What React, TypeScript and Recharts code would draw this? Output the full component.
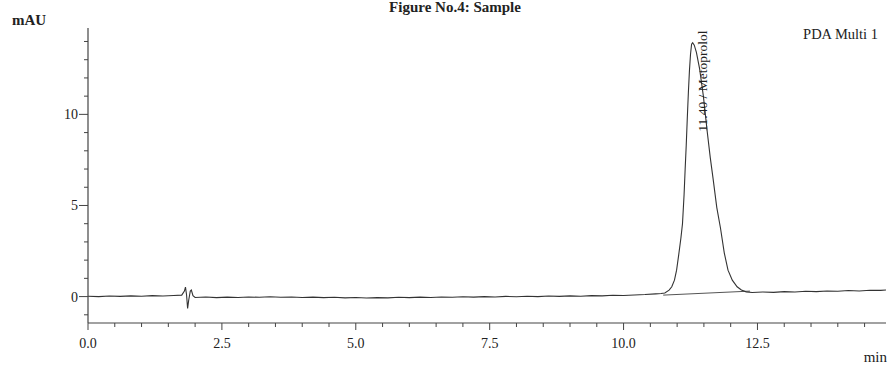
import React from "react";
import { LineChart, Line, XAxis, YAxis, ReferenceLine, ReferenceDot } from "recharts";

// Retention time (min)
const times: number[] = [
  0.0, 0.2, 0.4, 0.6, 0.8, 1.0, 1.2, 1.4, 1.6, 1.75, 1.8, 1.82, 1.84, 1.86, 1.88, 1.91, 1.93, 1.96,
  2.0, 2.2, 2.4, 2.6, 2.8, 3.0, 3.2, 3.4, 3.6, 3.8, 4.0, 4.2, 4.4, 4.6, 4.8, 5.0, 5.2, 5.4, 5.6, 5.8,
  6.0, 6.2, 6.4, 6.6, 6.8, 7.0, 7.2, 7.4, 7.6, 7.8, 8.0, 8.2, 8.4, 8.6, 8.8, 9.0, 9.2, 9.4, 9.6, 9.8,
  10.0, 10.2, 10.4, 10.6, 10.7, 10.77, 10.85, 10.9, 10.95, 10.99, 11.03, 11.07, 11.1, 11.13, 11.15,
  11.17, 11.19, 11.21, 11.23, 11.25, 11.27, 11.29, 11.32, 11.36, 11.42, 11.49, 11.56, 11.62, 11.67,
  11.74, 11.81, 11.88, 11.95, 12.03, 12.12, 12.2, 12.29, 12.4, 12.6, 12.8, 13.0, 13.2, 13.4, 13.6,
  13.8, 14.0, 14.2, 14.4, 14.6, 14.8, 14.9,
];

// Absorbance (mAU)
const signal: number[] = [
  0.02, 0.0, 0.03, 0.01, 0.04, 0.02, 0.05, 0.03, 0.06, 0.08, 0.3, 0.52, 0.1, -0.65, -0.2, 0.3, 0.36, 0.05,
  -0.05, -0.02, -0.06, -0.03, -0.05, -0.02, -0.04, -0.01, -0.04, -0.02, -0.05, -0.03, -0.06, -0.04, -0.07, -0.05, -0.08, -0.06, -0.07, -0.04,
  -0.06, -0.03, -0.05, -0.02, -0.04, -0.01, -0.03, 0.0, -0.02, 0.01, -0.01, 0.02, 0.0, 0.03, 0.01, 0.04, 0.02, 0.05, 0.04, 0.07,
  0.06, 0.09, 0.11, 0.15, 0.17, 0.2, 0.35, 0.54, 0.9, 1.45, 2.3, 3.2, 4.0, 5.6, 7.0,
  8.3, 9.8, 11.2, 12.4, 13.3, 13.85, 13.93, 13.8, 13.4, 12.5, 11.0, 9.1, 7.6, 6.5,
  4.9, 3.75, 2.4, 1.45, 0.9, 0.54, 0.36, 0.26, 0.22, 0.25, 0.23, 0.27, 0.25, 0.29, 0.27,
  0.31, 0.29, 0.33, 0.31, 0.35, 0.34, 0.36,
];

const xTicks: number[] = [0, 0.5, 1, 1.5, 2, 2.5, 3, 3.5, 4, 4.5, 5, 5.5, 6, 6.5, 7, 7.5, 8, 8.5, 9, 9.5, 10, 10.5, 11, 11.5, 12, 12.5, 13, 13.5, 14, 14.5];
const xMajor: number[] = [0, 2.5, 5, 7.5, 10, 12.5];
const yTicks: number[] = [-1, 0, 1, 2, 3, 4, 5, 6, 7, 8, 9, 10, 11, 12, 13, 14];
const yMajor: number[] = [0, 5, 10];

const xDomain: [number, number] = [0, 14.9];
const yDomain: [number, number] = [-1.45, 14.74];

// integration baseline under the peak
const peakBaseline = [
  { x: 10.74, y: 0.08 },
  { x: 12.36, y: 0.3 },
];
const peakLabel = { x: 11.48, y: 14.6, text: "11.40 / Metoprolol" };

const data = times.map((t, i) => ({ t, v: signal[i] }));

const FONT = "'Liberation Serif', 'Times New Roman', serif";
const INK = "#222";

const XTick = (props: any) => {
  const { x, y, payload } = props;
  const major = xMajor.some((m) => Math.abs(m - payload.value) < 1e-6);
  return (
    <g>
      <line x1={x} y1={y} x2={x} y2={y + (major ? 7 : 4)} stroke="#444" strokeWidth={1} />
      {major && (
        <text x={x} y={y + 25} textAnchor="middle" fontFamily={FONT} fontSize={14} fill={INK}>
          {payload.value.toFixed(1)}
        </text>
      )}
    </g>
  );
};

const YTick = (props: any) => {
  const { x, y, payload } = props;
  const major = yMajor.includes(payload.value);
  return (
    <g>
      <line x1={x - (major ? 9 : 4)} y1={y} x2={x} y2={y} stroke="#444" strokeWidth={1} />
      {major && (
        <text x={x - 10} y={y + 5} textAnchor="end" fontFamily={FONT} fontSize={14} fill={INK}>
          {payload.value}
        </text>
      )}
    </g>
  );
};

const PeakLabelShape = (props: any) => {
  const { cx, cy } = props;
  return (
    <text
      x={cx}
      y={cy}
      transform={`rotate(-90 ${cx} ${cy})`}
      textAnchor="end"
      dominantBaseline="central"
      fontFamily={FONT}
      fontSize={13.5}
      fill={INK}
    >
      {peakLabel.text}
    </text>
  );
};

export default function App() {
  return (
    <div style={{ position: "absolute", left: 0, top: 0, width: 890, height: 365, background: "#fff" }}>
      <LineChart
        width={890}
        height={365}
        data={data}
        margin={{ top: 28, right: 4, bottom: 12, left: 0 }}
      >
        <XAxis
          dataKey="t"
          type="number"
          domain={xDomain}
          ticks={xTicks}
          interval={0}
          tick={<XTick />}
          tickLine={false}
          tickSize={0}
          tickMargin={0}
          height={30}
          axisLine={{ stroke: "#444", strokeWidth: 1.2 }}
          allowDataOverflow
        />
        <XAxis
          xAxisId="top"
          orientation="top"
          type="number"
          domain={xDomain}
          tick={false}
          tickLine={false}
          height={0}
          axisLine={{ stroke: "#555", strokeWidth: 1.2 }}
          allowDataOverflow
        />
        <YAxis
          type="number"
          domain={yDomain}
          ticks={yTicks}
          interval={0}
          tick={<YTick />}
          tickLine={false}
          tickSize={0}
          tickMargin={0}
          width={88}
          axisLine={{ stroke: "#444", strokeWidth: 1.2 }}
          allowDataOverflow
        />
        <YAxis
          yAxisId="right"
          orientation="right"
          type="number"
          domain={yDomain}
          tick={false}
          tickLine={false}
          width={0}
          axisLine={{ stroke: "#555", strokeWidth: 1.2 }}
          allowDataOverflow
        />
        <ReferenceLine segment={peakBaseline} stroke="#555" strokeWidth={1} ifOverflow="extendDomain" />
        <Line
          type="linear"
          dataKey="v"
          stroke="#333"
          strokeWidth={1.1}
          dot={false}
          isAnimationActive={false}
        />
        <ReferenceDot x={peakLabel.x} y={peakLabel.y} r={0} shape={<PeakLabelShape />} />
      </LineChart>
      <svg
        width={890}
        height={365}
        style={{ position: "absolute", left: 0, top: 0, pointerEvents: "none" }}
      >
        <text x={455} y={12} textAnchor="middle" fontFamily={FONT} fontWeight="bold" fontSize={15} fill={INK}>
          Figure No.4: Sample
        </text>
        <text x={12} y={25} fontFamily={FONT} fontWeight="bold" fontSize={15} fill={INK}>
          mAU
        </text>
        <text x={878} y={39} textAnchor="end" fontFamily={FONT} fontSize={14.5} fill={INK}>
          PDA Multi 1
        </text>
        <text x={887} y={362} textAnchor="end" fontFamily={FONT} fontSize={15} fill={INK}>
          min
        </text>
      </svg>
    </div>
  );
}
